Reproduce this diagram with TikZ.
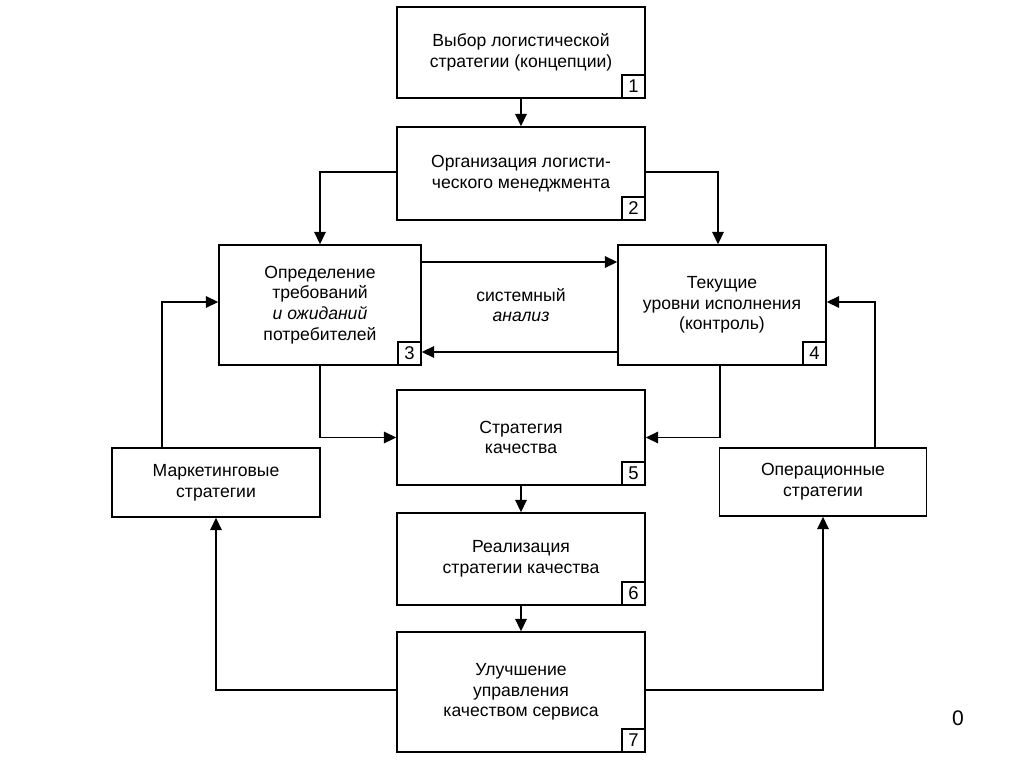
\documentclass[tikz,border=0pt]{standalone}
\usepackage{fontspec}
\setmainfont{Liberation Sans}
\usetikzlibrary{arrows.meta}

\tikzset{
  blok/.style={draw, line width=0.85pt, align=center, inner sep=2pt,
    font=\fontsize{10}{11.8}\selectfont},
  numbox/.style={draw, line width=0.85pt, minimum size=0.46cm, inner sep=0pt,
    anchor=south east, font=\fontsize{10.5}{11}\selectfont},
  strelka/.style={line width=0.85pt, -{Triangle[length=7pt,width=6.5pt]}},
}

\begin{document}
\begin{tikzpicture}[x=0.02cm, y=-0.02cm]

\useasboundingbox (0,0) rectangle (1024,767);

% main column
\node [blok, minimum width=4.96cm, minimum height=1.82cm] (b1) at (521,52.5) {Выбор логистической\\стратегии (концепции)};
\node [blok, minimum width=4.96cm, minimum height=1.86cm] (b2) at (521,173.5) {Организация логисти-\\ческого менеджмента};
\node [blok, minimum width=4.04cm, minimum height=2.40cm] (b3) at (320,305) {Определение\\требований\\\textit{и ожиданий}\\потребителей};
\node [blok, minimum width=4.16cm, minimum height=2.40cm] (b4) at (722,305) {Текущие\\уровни исполнения\\(контроль)};
\node [blok, minimum width=4.96cm, minimum height=1.90cm] (b5) at (521,437.5) {Стратегия\\качества};
\node [blok, minimum width=4.96cm, minimum height=1.84cm] (b6) at (521,559) {Реализация\\стратегии качества};
\node [blok, minimum width=4.96cm, minimum height=2.40cm] (b7) at (521,692) {Улучшение\\управления\\качеством сервиса};

% side boxes
\node [blok, minimum width=4.16cm, minimum height=1.38cm] (mark) at (216,482.5) {Маркетинговые\\стратегии};
\node [blok, minimum width=4.14cm, minimum height=1.36cm] (oper) at (823,482) {Операционные\\стратегии};

% numbers
\node [numbox] (n1) at (b1.south east) {1};
\node [numbox] (n2) at (b2.south east) {2};
\node [numbox] (n3) at (b3.south east) {3};
\node [numbox] (n4) at (b4.south east) {4};
\node [numbox] (n5) at (b5.south east) {5};
\node [numbox] (n6) at (b6.south east) {6};
\node [numbox] (n7) at (b7.south east) {7};

\node [align=center, font=\fontsize{10}{11.8}\selectfont] (sa) at (521,305) {системный\\\textit{анализ}};

% arrows
\draw [strelka] (b1.south) -- (b2.north);
\draw [strelka] ([yshift=0.03cm]b2.west) -| (b3.north);
\draw [strelka] ([yshift=0.03cm]b2.east) -| ([xshift=-0.08cm]b4.north);
\draw [strelka] ([yshift=0.86cm]b3.east) -- ([yshift=0.86cm]b4.west);
\draw [strelka] ([yshift=-0.94cm]b4.west) -- ([yshift=-0.94cm]b3.east);
\draw [strelka] (b3.south) |- (b5.west);
\draw [strelka] ([xshift=-0.04cm]b4.south) |- (b5.east);
\draw [strelka] (b5.south) -- (b6.north);
\draw [strelka] (b6.south) -- (b7.north);
\draw [strelka] ([yshift=0.04cm]b7.west) -| (mark.south);
\draw [strelka] ([yshift=0.04cm]b7.east) -| (oper.south);
\draw [strelka] ([xshift=-1.08cm]mark.north) |- ([yshift=0.06cm]b3.west);
\draw [strelka] ([xshift=1.04cm]oper.north) |- ([yshift=0.06cm]b4.east);

\node [font=\fontsize{12}{14}\selectfont] (pg) at (958,718) {0};

\end{tikzpicture}
\end{document}
